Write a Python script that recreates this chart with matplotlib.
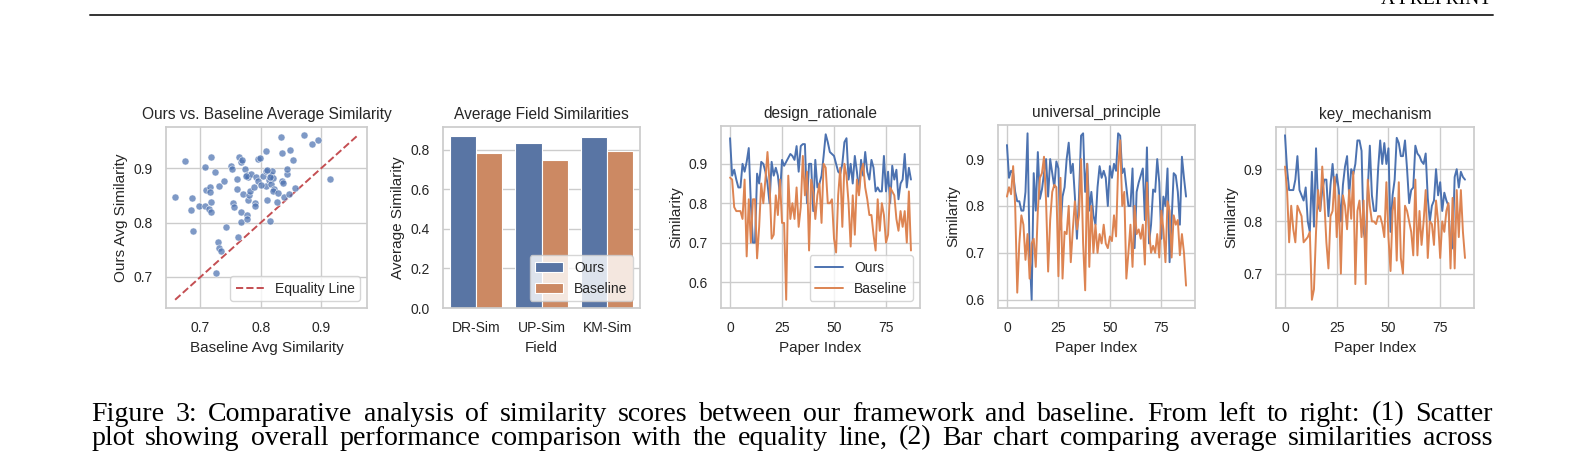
import numpy as np
import matplotlib
matplotlib.use("Agg")
import matplotlib.pyplot as plt
import seaborn as sns
from matplotlib.lines import Line2D
from matplotlib.ticker import MultipleLocator

# ---------------- data ----------------
scatter_baseline = [0.658, 0.674, 0.686, 0.684, 0.688, 0.698, 0.708, 0.718, 0.709, 0.708,
                    0.716, 0.716, 0.714, 0.717, 0.718, 0.724, 0.731, 0.739, 0.729, 0.731,
                    0.734, 0.726, 0.742, 0.750, 0.752, 0.754, 0.756, 0.760, 0.760, 0.763,
                    0.764, 0.767, 0.769, 0.767, 0.767, 0.771, 0.774, 0.777, 0.779, 0.777,
                    0.777, 0.779, 0.781, 0.782, 0.784, 0.789, 0.791, 0.790, 0.792, 0.796,
                    0.799, 0.796, 0.803, 0.808, 0.808, 0.809, 0.811, 0.816, 0.814, 0.817,
                    0.818, 0.817, 0.820, 0.822, 0.820, 0.827, 0.829, 0.833, 0.835, 0.836,
                    0.837, 0.838, 0.843, 0.844, 0.846, 0.849, 0.854, 0.857, 0.872, 0.885,
                    0.895, 0.914, 0.776, 0.815, 0.801, 0.810]
scatter_ours = [0.848, 0.913, 0.845, 0.824, 0.784, 0.831, 0.903, 0.920, 0.860, 0.831,
                0.865, 0.856, 0.826, 0.819, 0.838, 0.893, 0.867, 0.876, 0.764, 0.753,
                0.747, 0.707, 0.792, 0.904, 0.898, 0.837, 0.829, 0.881, 0.862, 0.773,
                0.921, 0.911, 0.916, 0.820, 0.801, 0.853, 0.899, 0.888, 0.884, 0.814,
                0.806, 0.842, 0.851, 0.859, 0.889, 0.865, 0.837, 0.831, 0.884, 0.917,
                0.919, 0.876, 0.885, 0.932, 0.867, 0.896, 0.841, 0.803, 0.878, 0.887,
                0.895, 0.872, 0.882, 0.862, 0.858, 0.838, 0.855, 0.957, 0.928, 0.876,
                0.873, 0.847, 0.890, 0.898, 0.852, 0.933, 0.916, 0.864, 0.961, 0.945,
                0.952, 0.881, 0.886, 0.884, 0.870, 0.897]

fields = ["DR-Sim", "UP-Sim", "KM-Sim"]
bar_ours = [0.872, 0.836, 0.867]
bar_baseline = [0.785, 0.750, 0.792]

dr_ours = [0.965, 0.87, 0.885, 0.86, 0.84, 0.84, 0.90, 0.88, 0.905, 0.94,
           0.80, 0.70, 0.70, 0.875, 0.85, 0.905, 0.90, 0.88, 0.85, 0.80,
           0.905, 0.87, 0.89, 0.87, 0.82, 0.91, 0.895, 0.905, 0.915, 0.925,
           0.92, 0.91, 0.945, 0.88, 0.945, 0.95, 0.95, 0.80, 0.90, 0.90,
           0.78, 0.91, 0.84, 0.85, 0.87, 0.92, 0.975, 0.955, 0.93, 0.925,
           0.92, 0.90, 0.88, 0.875, 0.90, 0.955, 0.965, 0.86, 0.90, 0.85,
           0.92, 0.88, 0.83, 0.91, 0.87, 0.93, 0.88, 0.86, 0.91, 0.89,
           0.83, 0.84, 0.83, 0.83, 0.92, 0.83, 0.88, 0.80, 0.895, 0.86,
           0.885, 0.81, 0.85, 0.86, 0.925, 0.84, 0.89, 0.86]
dr_base = [0.865, 0.86, 0.79, 0.78, 0.78, 0.78, 0.76, 0.86, 0.665, 0.81,
           0.70, 0.81, 0.81, 0.66, 0.74, 0.85, 0.80, 0.86, 0.93, 0.85,
           0.71, 0.72, 0.82, 0.77, 0.86, 0.75, 0.75, 0.555, 0.87, 0.76,
           0.80, 0.76, 0.84, 0.74, 0.79, 0.92, 0.82, 0.88, 0.68, 0.86,
           0.83, 0.76, 0.82, 0.85, 0.75, 0.90, 0.89, 0.80, 0.80, 0.81,
           0.71, 0.675, 0.82, 0.89, 0.74, 0.90, 0.87, 0.80, 0.69, 0.82,
           0.72, 0.86, 0.82, 0.88, 0.90, 0.84, 0.81, 0.77, 0.77, 0.72,
           0.68, 0.81, 0.73, 0.80, 0.77, 0.70, 0.72, 0.84, 0.83, 0.82,
           0.76, 0.73, 0.78, 0.74, 0.78, 0.70, 0.83, 0.68]

up_ours = [0.93, 0.86, 0.875, 0.87, 0.83, 0.81, 0.81, 0.79, 0.79, 0.83,
           0.955, 0.70, 0.60, 0.87, 0.79, 0.915, 0.815, 0.835, 0.87, 0.90,
           0.82, 0.90, 0.87, 0.84, 0.895, 0.88, 0.75, 0.82, 0.84, 0.90,
           0.935, 0.87, 0.89, 0.82, 0.73, 0.82, 0.95, 0.955, 0.83, 0.89,
           0.79, 0.83, 0.78, 0.76, 0.84, 0.885, 0.86, 0.875, 0.86, 0.80,
           0.885, 0.86, 0.89, 0.875, 0.955, 0.95, 0.87, 0.88, 0.84, 0.80,
           0.80, 0.88, 0.71, 0.83, 0.85, 0.865, 0.88, 0.77, 0.925, 0.72,
           0.76, 0.835, 0.83, 0.90, 0.85, 0.73, 0.82, 0.80, 0.88, 0.68,
           0.77, 0.87, 0.865, 0.83, 0.76, 0.905, 0.86, 0.82]
up_base = [0.82, 0.84, 0.825, 0.885, 0.80, 0.615, 0.72, 0.78, 0.76, 0.685,
           0.74, 0.645, 0.72, 0.73, 0.67, 0.79, 0.86, 0.87, 0.905, 0.81,
           0.66, 0.77, 0.83, 0.845, 0.84, 0.65, 0.86, 0.645, 0.745, 0.74,
           0.80, 0.68, 0.75, 0.81, 0.75, 0.78, 0.90, 0.72, 0.62, 0.89,
           0.67, 0.80, 0.70, 0.76, 0.70, 0.74, 0.72, 0.76, 0.72, 0.71,
           0.735, 0.725, 0.78, 0.735, 0.88, 0.94, 0.80, 0.83, 0.645, 0.70,
           0.76, 0.67, 0.80, 0.74, 0.75, 0.73, 0.76, 0.675, 0.85, 0.75,
           0.70, 0.715, 0.70, 0.74, 0.69, 0.79, 0.75, 0.68, 0.81, 0.79,
           0.69, 0.78, 0.76, 0.77, 0.695, 0.74, 0.70, 0.63]

km_ours = [0.965, 0.90, 0.86, 0.86, 0.86, 0.88, 0.925, 0.86, 0.85, 0.84,
           0.865, 0.80, 0.78, 0.895, 0.79, 0.94, 0.83, 0.82, 0.86, 0.88,
           0.88, 0.81, 0.87, 0.91, 0.86, 0.89, 0.86, 0.80, 0.87, 0.905,
           0.925, 0.85, 0.90, 0.89, 0.91, 0.955, 0.955, 0.935, 0.78, 0.76,
           0.86, 0.945, 0.85, 0.82, 0.82, 0.90, 0.955, 0.91, 0.95, 0.91,
           0.94, 0.78, 0.85, 0.88, 0.96, 0.95, 0.925, 0.925, 0.955, 0.90,
           0.835, 0.86, 0.865, 0.945, 0.93, 0.925, 0.915, 0.91, 0.93, 0.845,
           0.80, 0.83, 0.84, 0.90, 0.85, 0.875, 0.82, 0.855, 0.84, 0.83,
           0.745, 0.75, 0.885, 0.90, 0.865, 0.895, 0.885, 0.88]
km_base = [0.905, 0.86, 0.76, 0.83, 0.785, 0.76, 0.83, 0.82, 0.81, 0.76,
           0.765, 0.77, 0.78, 0.65, 0.67, 0.78, 0.86, 0.82, 0.905, 0.84,
           0.76, 0.71, 0.81, 0.82, 0.885, 0.77, 0.85, 0.70, 0.85, 0.83,
           0.785, 0.86, 0.805, 0.895, 0.68, 0.82, 0.84, 0.77, 0.84, 0.68,
           0.88, 0.83, 0.80, 0.80, 0.795, 0.81, 0.81, 0.795, 0.77, 0.875,
           0.77, 0.705, 0.82, 0.845, 0.725, 0.875, 0.73, 0.70, 0.83, 0.82,
           0.80, 0.78, 0.735, 0.88, 0.735, 0.82, 0.755, 0.80, 0.86, 0.73,
           0.80, 0.795, 0.755, 0.84, 0.80, 0.73, 0.80, 0.78, 0.82, 0.835,
           0.71, 0.845, 0.71, 0.86, 0.77, 0.86, 0.78, 0.73]

line_titles = ["design_rationale", "universal_principle", "key_mechanism"]
series_labels = ["Ours", "Baseline"]
header_text = "A PREPRINT"
caption_lines = [
    "Figure 3: Comparative analysis of similarity scores between our framework and baseline. From left to right: (1) Scatter",
    "plot showing overall performance comparison with the equality line, (2) Bar chart comparing average similarities across",
]

# ---------------- style ----------------
sns.set_theme(style="whitegrid")
plt.rcParams["font.family"] = ["Liberation Sans", "DejaVu Sans"]
TICK, LAB, TIT = 10, 11, 11.2
plt.rcParams.update({
    "xtick.labelsize": TICK, "ytick.labelsize": TICK,
    "axes.labelsize": LAB, "axes.titlesize": TIT,
    "legend.fontsize": TICK,
})
BLUE, ORANGE, RED = "#4C72B0", "#DD8452", "#C44E52"

W, H = 1584, 461
fig = plt.figure(figsize=(W / 100, H / 100), dpi=100)
fig.patch.set_facecolor("white")

def ax_at(left, top, right, bottom):
    return fig.add_axes([left / W, 1 - bottom / H, (right - left) / W, (bottom - top) / H])

# scatter
ax1 = ax_at(166, 127, 367, 308)
ax1.scatter(scatter_baseline, scatter_ours, s=26, color=BLUE, alpha=0.72,
            edgecolor="white", linewidth=0.5, zorder=3)
lo = min(min(scatter_baseline), min(scatter_ours))
hi = max(max(scatter_baseline), max(scatter_ours))
ax1.plot([lo, hi], [lo, hi], "--", color=RED, lw=1.4, label="Equality Line", zorder=2)
ax1.xaxis.set_major_locator(MultipleLocator(0.1))
ax1.yaxis.set_major_locator(MultipleLocator(0.1))
ax1.set_xlabel("Baseline Avg Similarity")
ax1.set_ylabel("Ours Avg Similarity")
ax1.set_title("Ours vs. Baseline Average Similarity")
ax1.legend(loc="lower right")

# bars
ax2 = ax_at(443, 127, 640, 308)
x = np.arange(len(fields))
c_o = sns.desaturate(BLUE, 0.75)
c_b = sns.desaturate(ORANGE, 0.75)
ax2.bar(x - 0.2, bar_ours, width=0.4, color=c_o, edgecolor="white", linewidth=0.8, label="Ours", zorder=2)
ax2.bar(x + 0.2, bar_baseline, width=0.4, color=c_b, edgecolor="white", linewidth=0.8, label="Baseline", zorder=2)
ax2.set_xticks(x)
ax2.set_xticklabels(fields)
ax2.set_xlim(-0.5, len(fields) - 0.5)
ax2.yaxis.set_major_locator(MultipleLocator(0.2))
ax2.xaxis.grid(False)
ax2.set_axisbelow(True)
ax2.set_xlabel("Field")
ax2.set_ylabel("Average Similarity")
ax2.set_title("Average Field Similarities")
ax2.legend(loc="lower right")

# line charts
line_boxes = [(721, 126, 920, 308), (998, 125, 1195, 308), (1276, 127, 1474, 308)]
line_data = [(dr_ours, dr_base), (up_ours, up_base), (km_ours, km_base)]
for k, (box, (o, b), title) in enumerate(zip(line_boxes, line_data, line_titles)):
    ax = ax_at(*box)
    idx = np.arange(len(o))
    ax.plot(idx, o, color=BLUE, lw=1.4, label=series_labels[0])
    ax.plot(idx, b, color=ORANGE, lw=1.4, label=series_labels[1])
    ax.xaxis.set_major_locator(MultipleLocator(25))
    ax.yaxis.set_major_locator(MultipleLocator(0.1))
    ax.set_xlabel("Paper Index")
    ax.set_ylabel("Similarity")
    ax.set_title(title)
    if k == 0:
        ax.legend(loc="lower right")

# page header
fig.add_artist(Line2D([90 / W, 1493 / W], [1 - 15.5 / H, 1 - 15.5 / H],
                      transform=fig.transFigure, color="#333333", lw=1.4))
fig.text(1491 / W, 1 - 4.5 / H, header_text, ha="right", va="baseline",
         family=["Liberation Serif"], fontsize=14, color="black")

# justified caption
r = fig.canvas.get_renderer()
probe = fig.text(0, 0, caption_lines[0], family=["Liberation Serif"], fontsize=10)
w10 = probe.get_window_extent(r).width
probe.remove()
cap_fs = 10 * 1325 / w10
x0, x1 = 91, 1493
for line, base in zip(caption_lines, [420.5, 444.5]):
    words = line.split(" ")
    ts = [fig.text(0, 1 - base / H, wd, family=["Liberation Serif"], fontsize=cap_fs,
                   va="baseline", ha="left", color="black") for wd in words]
    ws = [t.get_window_extent(r).width for t in ts]
    gap = (x1 - x0 - sum(ws)) / (len(words) - 1)
    xx = x0
    for t, wv in zip(ts, ws):
        t.set_x(xx / W)
        xx += wv + gap

fig.savefig("out.png", dpi=100)
